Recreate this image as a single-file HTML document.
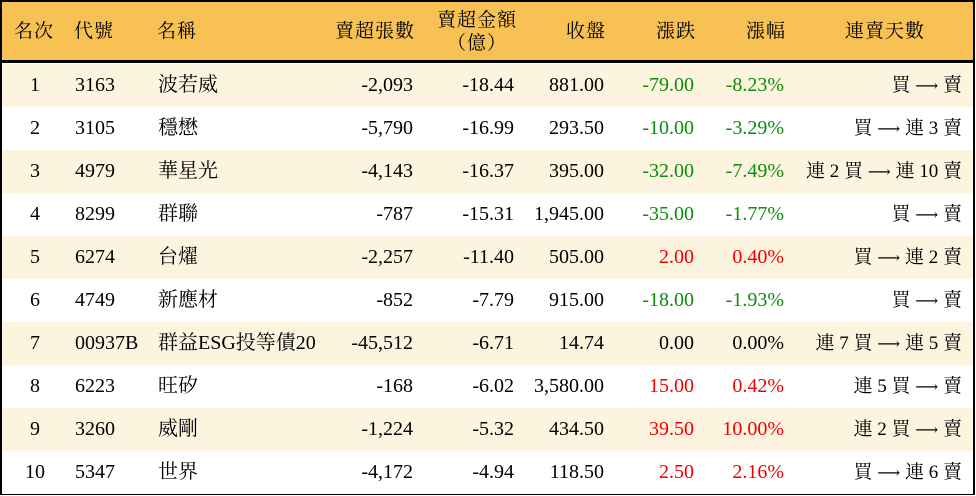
<!DOCTYPE html>
<html><head><meta charset="utf-8"><style>
*{margin:0;padding:0;box-sizing:border-box}
body{width:976px;height:496px;background:#fff;position:relative;font-family:"Liberation Serif","Noto Serif CJK SC",serif;font-size:20px;color:#000;overflow:hidden}
#t{position:absolute;left:0;top:0;width:975px;height:495px;border:2px solid #000}
.hd{position:absolute;left:0;top:0;width:971px;height:61px;background:#f8c153;border-bottom:3px solid #000}
.r{position:absolute;left:0;width:971px;height:43px}
.c{position:absolute;white-space:nowrap;line-height:43px}
.hd .c{line-height:60px;font-size:19px;letter-spacing:1px}
.g{color:#0c8c0c}.red{color:#f00000}
.a{font-family:"DejaVu Serif",serif;font-size:16px}
.l{font-size:19px}
</style></head><body><div id="t">
<div class="hd">
<div class="c" style="left:12px">名次</div>
<div class="c" style="left:72px">代號</div>
<div class="c" style="left:155px">名稱</div>
<div class="c" style="right:558px">賣超張數</div>
<div class="c" style="right:456px;top:7px;line-height:23px;text-align:center">賣超金額<br>（億）</div>
<div class="c" style="right:367px">收盤</div>
<div class="c" style="right:277px">漲跌</div>
<div class="c" style="right:187px">漲幅</div>
<div class="c" style="left:843px">連賣天數</div>
</div>
<div id="rows"></div>
</div>
<script>
var d=[["1","3163","波若威","-2,093","-18.44","881.00","-79.00","-8.23%","買 → 賣","g"],
["2","3105","穩懋","-5,790","-16.99","293.50","-10.00","-3.29%","買 → 連 3 賣","g"],
["3","4979","華星光","-4,143","-16.37","395.00","-32.00","-7.49%","連 2 買 → 連 10 賣","g"],
["4","8299","群聯","-787","-15.31","1,945.00","-35.00","-1.77%","買 → 賣","g"],
["5","6274","台燿","-2,257","-11.40","505.00","2.00","0.40%","買 → 連 2 賣","red"],
["6","4749","新應材","-852","-7.79","915.00","-18.00","-1.93%","買 → 賣","g"],
["7","00937B","群益ESG投等債20","-45,512","-6.71","14.74","0.00","0.00%","連 7 買 → 連 5 賣",""],
["8","6223","旺矽","-168","-6.02","3,580.00","15.00","0.42%","連 5 買 → 賣","red"],
["9","3260","威剛","-1,224","-5.32","434.50","39.50","10.00%","連 2 買 → 賣","red"],
["10","5347","世界","-4,172","-4.94","118.50","2.50","2.16%","買 → 連 6 賣","red"]];
var h="";
d.forEach(function(r,i){
var s=r[8].replace("→",'<span class="a">⟶</span>');
h+='<div class="r" style="top:'+(62+i*43)+'px;background:'+(i%2?'#fff':'#fdf4df')+'">'+
'<div class="c" style="left:'+(i==9?23:28)+'px">'+r[0]+'</div>'+
'<div class="c" style="left:73px">'+r[1]+'</div>'+
'<div class="c" style="left:156px">'+r[2]+'</div>'+
'<div class="c" style="right:560px">'+r[3]+'</div>'+
'<div class="c" style="right:459px">'+r[4]+'</div>'+
'<div class="c" style="right:369px">'+r[5]+'</div>'+
'<div class="c '+r[9]+'" style="right:279px">'+r[6]+'</div>'+
'<div class="c '+r[9]+'" style="right:189px">'+r[7]+'</div>'+
'<div class="c l" style="right:11px">'+s+'</div></div>';});
document.getElementById("rows").innerHTML=h;
</script>
</body></html>
